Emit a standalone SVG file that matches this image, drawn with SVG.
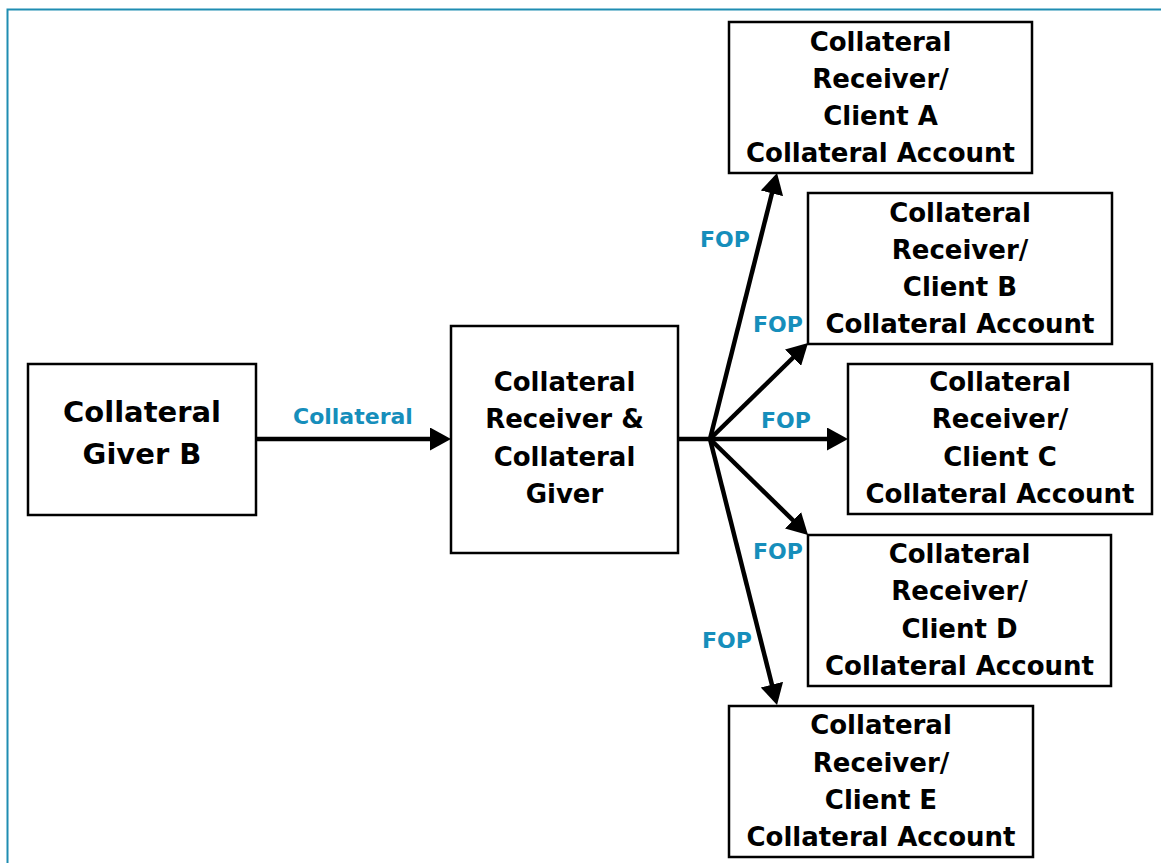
<svg xmlns="http://www.w3.org/2000/svg" width="1161" height="863" viewBox="0 0 1161 863">
<style>
.box{fill:#fff;stroke:#000;stroke-width:2.5}
.t{font-family:"DejaVu Sans","Liberation Sans",sans-serif;font-weight:bold;font-size:26px;fill:#000;text-anchor:middle}
.big{font-size:29px}
.lbl{font-family:"DejaVu Sans","Liberation Sans",sans-serif;font-weight:bold;font-size:22px;fill:#168ebb}
.c{fill:none;stroke:#000;stroke-width:4.5;marker-end:url(#ah)}
</style>
<defs>
<marker id="ah" markerUnits="userSpaceOnUse" markerWidth="23" markerHeight="23" refX="11" refY="11.5" orient="auto">
<path d="M0,0 L21,11.5 L0,23 z" fill="#000"/>
</marker>
</defs>
<rect width="1161" height="863" fill="#fff"/>
<path d="M7.5,863 V9.5 H1161" fill="none" stroke="#1f8db2" stroke-width="2"/>
<g id="connectors">
<path class="c" d="M256,439 H441"/>
<path d="M678,439 H710" fill="none" stroke="#000" stroke-width="4.5"/>
<path class="c" d="M710,439 L774.6,182.7"/>
<path class="c" d="M710,439 L800.9,350"/>
<path class="c" d="M710,439 H838"/>
<path class="c" d="M710,439 L800.9,528"/>
<path class="c" d="M710,439 L774.6,695.3"/>
<text class="lbl" x="293" y="424">Collateral</text>
<text class="lbl" x="700" y="247">FOP</text>
<text class="lbl" x="753" y="332">FOP</text>
<text class="lbl" x="761" y="428">FOP</text>
<text class="lbl" x="753" y="559">FOP</text>
<text class="lbl" x="702" y="648">FOP</text>
</g>
<g id="giverB">
<rect class="box" x="28" y="364" width="228" height="151"/>
<text class="t big" x="142" y="422">Collateral</text>
<text class="t big" x="142" y="464">Giver B</text>
</g>
<g id="middle">
<rect class="box" x="451" y="326" width="227" height="227"/>
<text class="t" x="564.5" y="391">Collateral</text>
<text class="t" x="564.5" y="428">Receiver &amp;</text>
<text class="t" x="564.5" y="466">Collateral</text>
<text class="t" x="564.5" y="503">Giver</text>
</g>
<g id="clientA">
<rect class="box" x="729" y="22" width="303" height="151"/>
<text class="t" x="880.5" y="51">Collateral</text>
<text class="t" x="880.5" y="88">Receiver/</text>
<text class="t" x="880.5" y="125">Client A</text>
<text class="t" x="880.5" y="162">Collateral Account</text>
</g>
<g id="clientB">
<rect class="box" x="808" y="193" width="304" height="151"/>
<text class="t" x="960" y="222">Collateral</text>
<text class="t" x="960" y="259">Receiver/</text>
<text class="t" x="960" y="296">Client B</text>
<text class="t" x="960" y="333">Collateral Account</text>
</g>
<g id="clientC">
<rect class="box" x="848" y="364" width="304" height="150"/>
<text class="t" x="1000" y="391">Collateral</text>
<text class="t" x="1000" y="428">Receiver/</text>
<text class="t" x="1000" y="466">Client C</text>
<text class="t" x="1000" y="503">Collateral Account</text>
</g>
<g id="clientD">
<rect class="box" x="808" y="535" width="303" height="151"/>
<text class="t" x="959.5" y="563">Collateral</text>
<text class="t" x="959.5" y="600">Receiver/</text>
<text class="t" x="959.5" y="638">Client D</text>
<text class="t" x="959.5" y="675">Collateral Account</text>
</g>
<g id="clientE">
<rect class="box" x="729" y="706" width="304" height="151"/>
<text class="t" x="881" y="734">Collateral</text>
<text class="t" x="881" y="772">Receiver/</text>
<text class="t" x="881" y="809">Client E</text>
<text class="t" x="881" y="846">Collateral Account</text>
</g>
</svg>
